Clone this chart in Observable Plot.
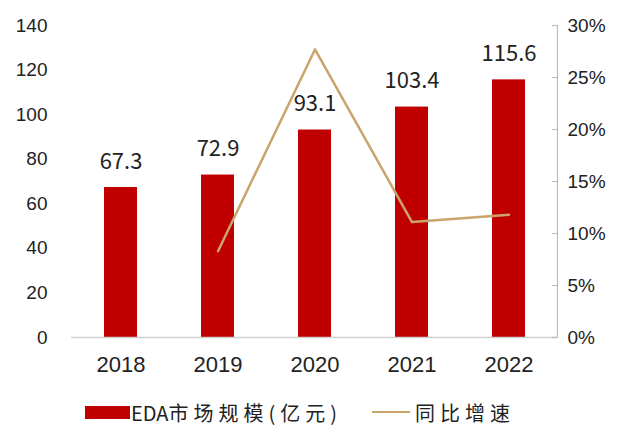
<!DOCTYPE html>
<html>
<head>
<meta charset="utf-8">
<script src="https://cdn.jsdelivr.net/npm/d3@7"></script>
<script src="https://cdn.jsdelivr.net/npm/@observablehq/plot@0.6"></script>
<style>
  body { margin: 0; background: #fff; }
  #wrap { position: relative; width: 620px; height: 425px; }
  .legend { position: absolute; top: 398px; left: 0; width: 620px; height: 28px; font-family: "Noto Sans CJK SC", sans-serif; font-size: 20px; color: #222; }
  .item { position: absolute; top: 0; display: flex; align-items: center; height: 28px; }
  .sp { letter-spacing: 5px; }
  .sw-bar { width: 45px; height: 13px; background: #C00000; margin-right: 1px; }
  .sw-line { width: 38px; height: 2.5px; background: #C9A46B; margin-right: 5px; }
</style>
</head>
<body>
<div id="wrap">
  <div id="chart"></div>
  <div class="legend">
    <div class="item" style="left:85px"><div class="sw-bar"></div><span>EDA</span><span class="sp">市场规模(亿元)</span></div>
    <div class="item" style="left:372px"><div class="sw-line"></div><span class="sp">同比增速</span></div>
  </div>
</div>
<script>
const years = ["2018", "2019", "2020", "2021", "2022"];
const marketSize = [67.3, 72.9, 93.1, 103.4, 115.6];
const growthYears = ["2019", "2020", "2021", "2022"];
const growthPct = [8.3, 27.7, 11.1, 11.8];
const leftTicks = [0, 20, 40, 60, 80, 100, 120, 140];
const rightTicks = [0, 5, 10, 15, 20, 25, 30];

const K = 140 / 30; // right axis percent -> left axis units
const bars = years.map((y, i) => ({year: y, value: marketSize[i]}));
const growth = growthYears.map((y, i) => ({year: y, g: growthPct[i]}));

const chart = Plot.plot({
  width: 620,
  height: 385,
  marginTop: 25,
  marginBottom: 48,
  marginLeft: 71,
  marginRight: 63,
  style: {fontFamily: "'Liberation Sans', Arial, sans-serif", background: "#fff", color: "#222"},
  x: {domain: years, paddingInner: 0.66, paddingOuter: 0.33, label: null},
  y: {domain: [0, 140], label: null},
  marks: [
    Plot.barY(bars, {x: "year", y: "value", fill: "#C00000"}),
    Plot.ruleY([0], {stroke: "#d0d0d0", strokeWidth: 1.5}),
    Plot.frame({anchor: "right", stroke: "#bdbdbd", strokeWidth: 1.2}),
    Plot.ruleY(rightTicks.map(p => p * K), {y: d => d, insetLeft: 481, stroke: "#bdbdbd", strokeWidth: 1.2}),
    Plot.axisY({ticks: leftTicks, anchor: "left", tickSize: 0, tickPadding: 24, fontSize: 19, label: null}),
    Plot.axisY({ticks: rightTicks.map(p => p * K), anchor: "right", tickSize: 0, tickPadding: 10, fontSize: 19, tickFormat: d => Math.round(d / K) + "%", label: null}),
    Plot.axisX({tickSize: 0, tickPadding: 19, fontSize: 22, fontFamily: "'Liberation Sans', Arial, sans-serif", label: null}),
    Plot.line(growth, {x: "year", y: d => d.g * K, stroke: "#C9A46B", strokeWidth: 2.5}),
    Plot.text(bars, {x: "year", y: "value", text: d => d.value.toFixed(1), lineAnchor: "bottom", dy: -19, fontSize: 22, letterSpacing: 1.5, fontFamily: "'Noto Sans CJK SC', sans-serif", fill: "#222"})
  ]
});
document.getElementById("chart").appendChild(chart);
</script>
</body>
</html>
